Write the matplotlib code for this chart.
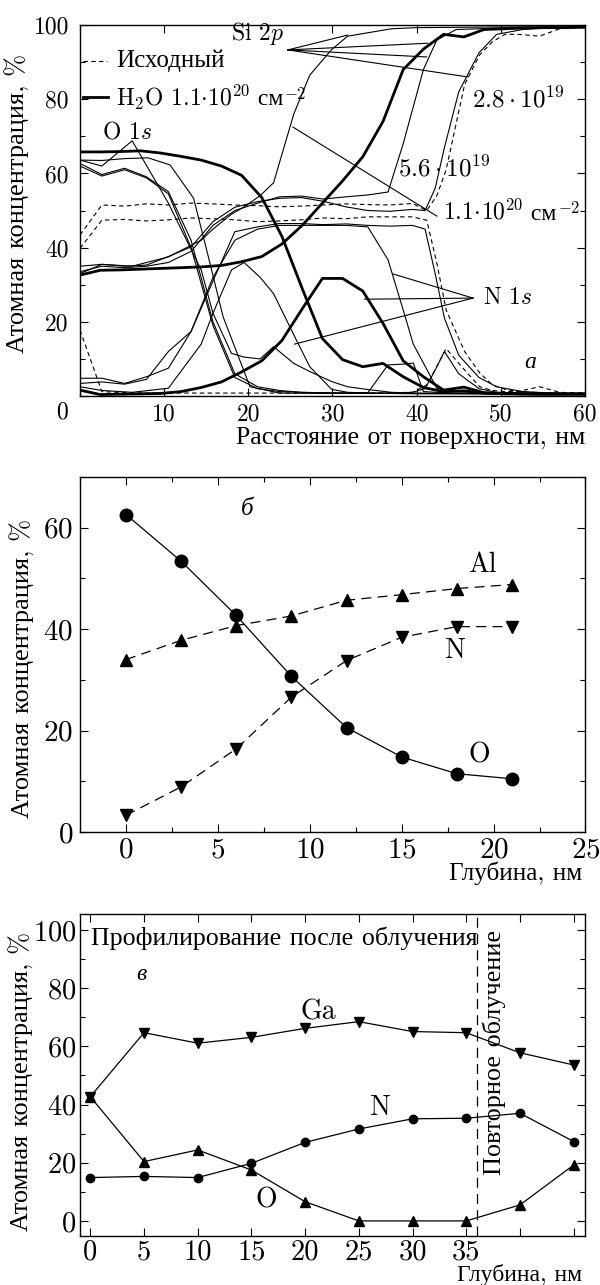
import numpy as np
import matplotlib
matplotlib.use("Agg")
import matplotlib.pyplot as plt
from matplotlib.ticker import MultipleLocator
from matplotlib.offsetbox import TextArea, HPacker, AnnotationBbox

plt.rcParams['font.family'] = ['cmr10', 'Liberation Serif']
plt.rcParams['mathtext.fontset'] = 'cm'
plt.rcParams['axes.formatter.use_mathtext'] = True
plt.rcParams['axes.unicode_minus'] = False

# ---------- panel a: depth profiles (XPS) ----------
# initial sample (dashed)
init_x = [0, 2.6, 5.3, 7.9, 10.5, 13.2, 15.8, 18.4, 21.1, 23.7, 26.3, 28.9, 31.6, 34.2,
          36.8, 39.5, 41.2, 42.4, 43.5, 45.7, 47.5, 49.0, 50.5, 52.0, 54.6, 57.0, 60.0]
init_o = [17.8, 1.2, 0.9, 0.8, 0.8, 0.8, 0.8, 0.8, 0.8, 0.8, 0.8, 0.8, 0.8, 0.8,
          0.9, 1.0, 3.0, 8.0, 12.8, 7.0, 2.5, 1.5, 1.2, 1.2, 2.5, 1.0, 0.8]
init_si = [43.4, 51.5, 51.2, 51.8, 51.5, 52.0, 51.8, 51.5, 51.3, 51.0, 51.2, 51.5, 51.8, 51.6,
           51.5, 51.9, 50.0, 54.0, 61.0, 84.0, 92.0, 95.5, 97.5, 97.5, 97.0, 99.0, 99.5]
init_n = [39.8, 47.4, 47.6, 47.2, 47.5, 48.0, 47.8, 47.5, 47.0, 47.2, 47.5, 48.0, 47.8, 48.3,
          48.3, 48.3, 47.4, 35.8, 23.2, 12.0, 6.2, 3.0, 1.8, 1.2, 0.9, 0.8, 0.8]

# 2.8e19 (thin)
a_x = [0, 2.6, 5.3, 7.9, 10.5, 13.2, 15.8, 18.4, 21.1, 23.7, 26.3, 28.9, 31.6, 34.2,
       36.8, 39.5, 41.0, 42.2, 43.3, 45.0, 47.4, 49.5, 52.6, 55.3, 57.9, 60.0]
a_o = [62.7, 59.7, 61.4, 59.1, 55.1, 42.0, 20.0, 6.0, 2.5, 1.5, 1.0, 0.8, 0.8, 0.8,
       0.8, 1.0, 2.0, 7.0, 12.0, 6.0, 2.0, 1.0, 0.8, 0.8, 0.6, 0.6]
a_n = [4.8, 4.8, 3.4, 5.2, 7.5, 17.4, 31.0, 44.3, 45.6, 46.5, 46.5, 46.2, 46.4, 46.0,
       45.8, 46.0, 45.0, 33.0, 21.0, 11.0, 5.0, 2.5, 1.2, 0.9, 0.8, 0.8]
a_si = [35.0, 35.5, 35.0, 35.3, 37.6, 40.2, 47.0, 50.9, 52.4, 53.3, 53.5, 52.5, 51.0, 50.0,
        49.8, 50.3, 50.0, 56.0, 67.0, 82.0, 92.5, 97.5, 98.8, 99.2, 99.4, 99.5]

# 5.6e19 (thin)
b_x = [0, 2.6, 5.3, 7.9, 10.5, 13.2, 15.8, 18.4, 21.1, 23.7, 26.3, 28.9, 31.6, 34.2,
       36.6, 38.4, 39.6, 40.8, 42.4, 44.7, 47.4, 50.0, 52.6, 55.3, 57.9, 60.0]
b_o = [62.0, 59.3, 61.0, 58.8, 54.5, 40.0, 19.0, 5.0, 2.0, 1.2, 1.0, 0.9, 0.8, 0.9,
       8.4, 8.6, 8.9, 1.2, 1.0, 0.8, 0.7, 0.7, 0.6, 0.6, 0.6, 0.6]
b_n = [3.4, 3.8, 3.2, 4.5, 12.0, 17.4, 32.0, 42.0, 45.0, 46.0, 46.0, 46.0, 46.0, 45.6,
       36.7, 23.2, 14.0, 8.9, 2.1, 1.2, 0.9, 0.8, 0.8, 0.7, 0.7, 0.7]
b_si = [33.5, 35.0, 34.6, 35.0, 36.0, 39.0, 46.0, 50.0, 52.0, 53.7, 53.9, 53.1, 53.7, 54.2,
        55.0, 68.0, 78.0, 88.0, 96.0, 98.8, 99.0, 99.2, 99.3, 99.4, 99.4, 99.5]

# 1.1e20 (thin)
c_x = [0, 2.6, 6.2, 10.5, 14.4, 15.8, 18.0, 19.5, 21.4, 23.0, 25.4, 27.3, 29.9, 31.8,
       34.4, 37.0, 40.0, 45.0, 50.0, 55.0, 60.0]
c_o = [63.6, 62.0, 68.8, 52.0, 34.0, 22.3, 11.5, 10.5, 10.0, 13.3, 8.8, 6.6, 3.9, 2.5,
       1.7, 1.0, 0.8, 0.7, 0.6, 0.6, 0.6]
c_n = [2.5, 1.5, 1.0, 2.1, 14.0, 22.3, 34.0, 36.0, 32.0, 27.6, 16.5, 7.9, 1.8, 1.0,
       0.8, 0.7, 0.6, 0.6, 0.6, 0.5, 0.5]
c_si = [33.0, 35.5, 35.0, 37.5, 42.0, 45.0, 49.0, 51.0, 54.0, 57.5, 76.0, 86.5, 93.4, 97.0,
        98.0, 99.0, 99.3, 99.4, 99.5, 99.5, 99.5]

# extra thin O curve (plateau)
e_x = [0, 2.6, 5.3, 8.1, 10.7, 13.5, 15.2, 17.0, 20.2, 23.7, 30.0, 40.0, 50.0, 60.0]
e_o = [63.6, 63.5, 64.0, 64.2, 62.3, 53.3, 38.0, 21.4, 2.5, 0.8, 0.7, 0.7, 0.6, 0.6]

# H2O 1.1e20 (thick)
h_x = [0, 2.4, 4.8, 7.2, 9.6, 12, 14.4, 16.8, 19.2, 21.6, 24, 26.4, 28.8, 31.2, 33.6, 36,
       38.4, 40.8, 43.2, 45.6, 48, 50.4, 52.8, 55.2, 57.6, 60]
h_o = [65.8, 65.8, 65.9, 66.1, 65.5, 64.6, 63.6, 62.0, 59.5, 53.5, 43.0, 29.0, 15.5, 9.8,
       7.9, 8.8, 5.2, 2.3, 1.2, 1.4, 0.8, 0.6, 0.5, 0.5, 0.5, 0.5]
h_n = [1.6, 0.4, 0.5, 0.6, 0.7, 1.2, 2.3, 3.8, 6.5, 9.5, 15.0, 23.5, 31.7, 31.7,
       28.3, 19.6, 9.5, 5.2, 1.6, 2.4, 0.9, 0.7, 0.6, 0.5, 0.5, 0.5]
h_si = [32.6, 33.9, 34.0, 34.2, 34.4, 34.6, 34.8, 35.2, 36.2, 37.6, 41.0, 46.0, 52.0, 58.0,
        64.5, 74.0, 88.0, 93.5, 97.5, 96.8, 98.8, 99.0, 99.2, 99.3, 99.3, 99.4]

# ---------- panel b ----------
depth_b = [0, 3, 6, 9, 12, 15, 18, 21]
o_b = [62.6, 53.4, 42.7, 30.7, 20.6, 14.8, 11.5, 10.5]
al_b = [34.0, 37.8, 40.7, 42.6, 45.7, 46.8, 48.0, 48.8]
n_b = [3.3, 8.9, 16.4, 26.6, 33.8, 38.4, 40.5, 40.5]

# ---------- panel c ----------
depth_c = [0, 5, 10, 15, 20, 25, 30, 35, 40, 45]
ga_c = [42.7, 64.7, 61.1, 63.1, 66.2, 68.5, 65.1, 64.7, 57.8, 53.6]
n_c = [14.9, 15.3, 14.9, 19.8, 27.0, 31.6, 35.1, 35.3, 37.0, 27.3]
o_c = [42.7, 20.4, 24.4, 17.5, 6.6, 0.0, 0.0, 0.0, 5.5, 19.2]
xtick_c = ['0', '5', '10', '15', '20', '25', '30', '35', '', '']

ylab = "Атомная концентрация, %"

fig = plt.figure(figsize=(6, 12.85), dpi=100)
ax1 = fig.add_axes([0.1333, 0.6918, 0.8417, 0.2887])
ax2 = fig.add_axes([0.1333, 0.3525, 0.8425, 0.2763])
ax3 = fig.add_axes([0.1333, 0.0381, 0.8425, 0.2506])


def style_ax(ax, fs, ypad=3.5, xpad=3.5):
    ax.tick_params(which='both', direction='in', top=True, right=True, labelsize=fs,
                   width=0.8)
    ax.tick_params(which='major', length=6)
    ax.tick_params(which='minor', length=3.5)
    ax.tick_params(axis='y', pad=ypad)
    ax.tick_params(axis='x', pad=xpad)
    for s in ax.spines.values():
        s.set_linewidth(1.0)


def mixed_text(ax, x, y, parts, fs):
    # cyrillic inside a mathtext string is not found, so glue pieces together
    boxes = [TextArea(p, textprops=dict(fontsize=fs)) for p in parts]
    pack = HPacker(children=boxes, align='baseline', pad=0, sep=0)
    ab = AnnotationBbox(pack, (x, y), xycoords='data', box_alignment=(0, 0.5),
                        frameon=False, pad=0)
    ax.add_artist(ab)


# ---- a ----
thin = dict(color='k', lw=0.8)
dash = dict(color='k', lw=0.8, ls=(0, (4, 3)))
thick = dict(color='k', lw=2.0)

for yy in (init_o, init_si, init_n):
    ax1.plot(init_x, yy, **dash)
for xx, ys in ((a_x, (a_o, a_n, a_si)), (b_x, (b_o, b_n, b_si)), (c_x, (c_o, c_n, c_si))):
    for yy in ys:
        ax1.plot(xx, yy, **thin)
ax1.plot(e_x, e_o, **thin)
for yy in (h_o, h_n, h_si):
    ax1.plot(h_x, yy, **thick)

# legend
ax1.plot([0.3, 3.2], [90.3, 90.3], **dash)
ax1.text(4.3, 90.3, "Исходный", fontsize=18, va='center')
ax1.plot([0.3, 3.3], [80.6, 80.6], **thick)
mixed_text(ax1, 4.3, 80.6, [r"H$_2$O 1.1$\cdot$10$^{20}$", " см", r"$^{-2}$"], 17)

# labels with pointers
ax1.text(18.0, 97.8, r"Si 2$p$", fontsize=17, va='center')
for px, py in ((31.8, 97.3), (41.3, 95.1), (41.2, 91.4), (46.1, 86.0)):
    ax1.plot([24.7, px], [93.3, py], **thin)
ax1.text(46.6, 79.8, r"$2.8\cdot10^{19}$", fontsize=18, va='center')
ax1.text(37.8, 61.2, r"$5.6\cdot10^{19}$", fontsize=18, va='center')
mixed_text(ax1, 43.1, 49.6, [r"$1.1\!\cdot\!10^{20}$", " см", r"$^{-2}$"], 17)
ax1.plot([25.3, 42.4], [72.5, 48.5], **thin)
ax1.text(2.6, 71.0, r"O 1$s$", fontsize=17, va='center')
ax1.text(47.9, 26.4, r"N 1$s$", fontsize=17, va='center')
for px, py in ((37.2, 32.9), (33.8, 26.1), (25.5, 14.0)):
    ax1.plot([46.7, px], [26.4, py], **thin)
ax1.text(52.8, 9.3, "а", fontsize=17, style='italic', va='center')

ax1.set_xlim(0, 60)
ax1.set_ylim(0, 100)
ax1.yaxis.set_minor_locator(MultipleLocator(10))
style_ax(ax1, 17, ypad=8, xpad=5)
ax1.set_xticks([0, 10, 20, 30, 40, 50, 60])
ax1.set_xticklabels(['', '10', '20', '30', '40', '50', '60'])
ax1.set_yticks([0, 20, 40, 60, 80, 100])
ax1.set_yticklabels(['', '20', '40', '60', '80', '100'])
ax1.text(-0.036, -0.045, "0", fontsize=17, transform=ax1.transAxes,
         ha='center', va='center')
ax1.set_ylabel(ylab, fontsize=19)
ax1.yaxis.set_label_coords(-0.099, 0.52)
ax1.set_xlabel("Расстояние от поверхности, нм", fontsize=18.5, ha='right', va='center')
ax1.xaxis.set_label_coords(1.0, -0.11)

# ---- b ----
ax2.plot(depth_b, o_b, color='k', lw=0.9, marker='o', ms=9)
ax2.plot(depth_b, al_b, color='k', lw=0.9, ls=(0, (8, 5)), marker='^', ms=9)
ax2.plot(depth_b, n_b, color='k', lw=0.9, ls=(0, (8, 5)), marker='v', ms=9)
ax2.text(6.6, 63.8, "б", fontsize=18, style='italic', ha='center', va='center')
ax2.text(19.4, 52.6, "Al", fontsize=20, ha='center', va='center')
ax2.text(17.9, 35.8, "N", fontsize=20, ha='center', va='center')
ax2.text(19.2, 15.2, "O", fontsize=20, ha='center', va='center')
ax2.set_xlim(-2.5, 25)
ax2.set_ylim(0, 70)
ax2.xaxis.set_major_locator(MultipleLocator(5))
ax2.xaxis.set_minor_locator(MultipleLocator(2.5))
ax2.yaxis.set_major_locator(MultipleLocator(20))
ax2.yaxis.set_minor_locator(MultipleLocator(10))
style_ax(ax2, 21, ypad=5)
ax2.set_ylabel(ylab, fontsize=19)
ax2.yaxis.set_label_coords(-0.089, 0.46)
ax2.set_xlabel("Глубина, нм", fontsize=18.2, ha='right', va='center')
ax2.xaxis.set_label_coords(0.993, -0.115)

# ---- c ----
ax3.plot(depth_c, ga_c, color='k', lw=0.9, marker='v', ms=7)
ax3.plot(depth_c, n_c, color='k', lw=0.9, marker='o', ms=6)
ax3.plot(depth_c, o_c, color='k', lw=0.9, marker='^', ms=7)
ax3.axvline(36, color='k', lw=0.9, ls=(0, (8, 5)))
ax3.text(0.1, 97.3, "Профилирование после облучения", fontsize=18.7, va='center')
ax3.text(37.6, 100, "Повторное облучение", fontsize=18.8, rotation=90, ha='center', va='top')
ax3.text(4.75, 85, "в", fontsize=17, style='italic', ha='center', va='center')
ax3.text(21.2, 71.8, "Ga", fontsize=20, ha='center', va='center')
ax3.text(26.9, 39, "N", fontsize=20, ha='center', va='center')
ax3.text(16.4, 7.2, "O", fontsize=20, ha='center', va='center')
ax3.set_xlim(-0.96, 46.1)
ax3.set_ylim(-5.2, 105.5)
ax3.set_xticks(depth_c)
ax3.set_xticklabels(xtick_c)
ax3.yaxis.set_major_locator(MultipleLocator(20))
ax3.yaxis.set_minor_locator(MultipleLocator(10))
style_ax(ax3, 20.5, ypad=2.5, xpad=2.5)
ax3.set_ylabel(ylab, fontsize=19)
ax3.yaxis.set_label_coords(-0.091, 0.48)
ax3.set_xlabel("Глубина, нм", fontsize=17, ha='right', va='center')
ax3.xaxis.set_label_coords(0.993, -0.122)

fig.savefig("out.png", dpi=100)
